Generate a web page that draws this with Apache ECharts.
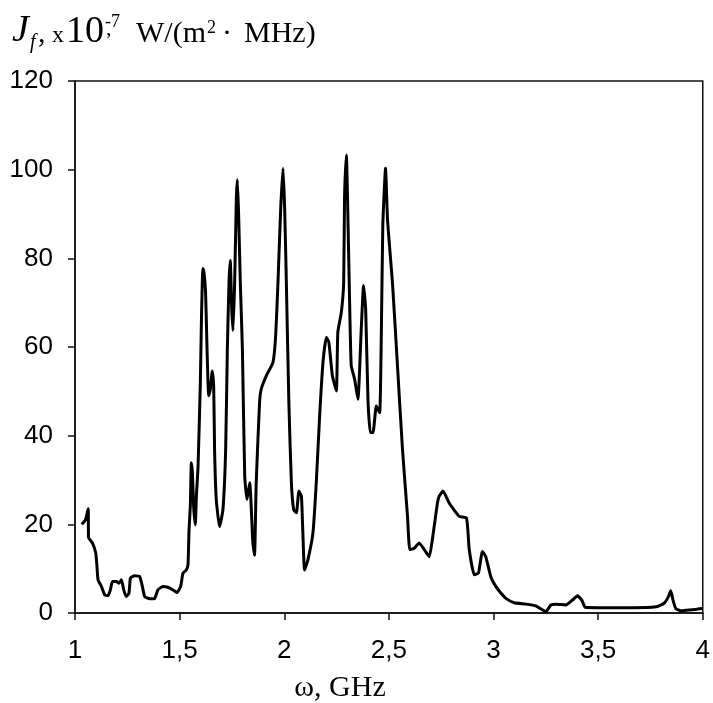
<!DOCTYPE html>
<html>
<head>
<meta charset="utf-8">
<script src="https://cdn.jsdelivr.net/npm/echarts@6/dist/echarts.min.js"></script>
<style>
html,body{margin:0;padding:0;background:#fff;}
#chart{width:713px;height:703px;}
</style>
</head>
<body>
<div id="chart"></div>
<script>
// frequency (GHz) and spectral flux density (x10^-7 W/(m^2·MHz))
const freq = [1.032,1.050,1.063,1.065,1.083,1.099,1.105,1.110,1.126,1.142,1.158,1.169,1.179,1.198,1.210,1.222,1.233,1.245,1.258,1.265,1.285,1.309,1.322,1.333,1.357,1.381,1.396,1.420,1.444,1.468,1.487,1.505,1.516,1.532,1.540,1.545,1.551,1.556,1.561,1.567,1.575,1.580,1.588,1.599,1.604,1.611,1.616,1.624,1.631,1.639,1.647,1.656,1.663,1.667,1.675,1.691,1.707,1.720,1.728,1.736,1.742,1.749,1.755,1.763,1.771,1.776,1.782,1.790,1.800,1.811,1.822,1.835,1.850,1.858,1.866,1.882,1.890,1.914,1.946,1.959,1.970,1.983,1.994,2.002,2.010,2.022,2.034,2.045,2.058,2.070,2.082,2.089,2.097,2.113,2.137,2.153,2.169,2.185,2.201,2.213,2.230,2.249,2.256,2.273,2.284,2.288,2.297,2.304,2.312,2.320,2.336,2.352,2.368,2.379,2.389,2.400,2.411,2.424,2.440,2.456,2.464,2.471,2.484,2.494,2.517,2.541,2.565,2.589,2.600,2.621,2.645,2.669,2.693,2.712,2.732,2.740,2.759,2.788,2.836,2.871,2.884,2.908,2.928,2.947,2.963,2.987,3.011,3.035,3.059,3.099,3.155,3.202,3.250,3.274,3.298,3.346,3.377,3.401,3.422,3.438,3.505,3.664,3.776,3.815,3.836,3.847,3.858,3.871,3.895,3.934,3.967,3.998];
const flux = [20,21,23.5,17,15.8,13.6,10.5,7.5,6,4.1,3.9,5.2,7.1,7.1,6.7,7.5,5.2,3.7,4.5,7.9,8.4,8.2,6,3.7,3.2,3.3,5.2,6,5.8,5.2,4.6,6,9,9.7,10.9,18.8,24,33.9,31.7,24,19.9,26.3,33,52,65.6,77.7,77,72.4,59.5,49,50.5,54.6,50.5,36.9,25.6,19.5,23.3,36.9,59.5,74.6,79.5,68.6,63.7,74.6,93.5,97.7,89.7,74.6,59.5,30.9,25.6,29.4,15.8,13,29.4,47.5,50.5,53.5,56.5,62.6,74.6,91.2,100.3,91.2,74.6,47.5,29.4,23.3,22.6,27.5,26.3,18,9.7,12,18,29.4,44.4,56.5,62.2,61.1,53.5,50.1,63.3,67.9,74.6,93.5,103.3,89.7,70.9,55.8,52.8,48.2,64.1,73.9,68.6,48.2,40.7,40.7,46.7,45.2,63.3,87.5,100.3,88.2,74.6,55.8,36.9,21.8,14.3,14.6,15.8,14.3,12.7,18,24.8,26.3,27.5,24.8,21.8,21.4,14.3,8.6,9,13.9,12.7,8.2,6,4.5,3.3,2.3,2.0,1.6,0.3,1.8,2.0,1.8,2.9,3.9,2.9,1.3,1.2,1.2,1.4,2.2,3.7,5.0,2.9,1.0,0.5,0.7,0.8,1.0];
const xTicks = ['1','1,5','2','2,5','3','3,5','4'];
const yTicks = ['0','20','40','60','80','100','120'];

const chart = echarts.init(document.getElementById('chart'), null, {renderer:'canvas'});
const serif = 'Liberation Serif, Times New Roman, serif';
const sans = 'Liberation Sans, Arial, sans-serif';
const txt = (x, y, s, size, extra) => Object.assign({
  type:'text', x:x, y:y,
  style:Object.assign({text:s, fill:'#000', font:size+'px '+serif, align:'left', verticalAlign:'top'}, extra||{})
});
chart.setOption({
  animation:false,
  backgroundColor:'#fff',
  grid:{left:75, right:9, top:81, bottom:90, show:true, borderColor:'#111', borderWidth:1.5, backgroundColor:'transparent'},
  xAxis:{
    type:'value', min:1, max:4, interval:0.5,
    axisLine:{lineStyle:{color:'#111', width:1.5}},
    axisTick:{show:true, length:7, lineStyle:{color:'#111', width:1.5}},
    axisLabel:{color:'#000', fontFamily:sans, fontSize:26, margin:25,
      formatter:(v)=>{ const i=Math.round((v-1)/0.5); return xTicks[i]!==undefined?xTicks[i]:''; }},
    splitLine:{show:false}
  },
  yAxis:{
    type:'value', min:0, max:120, interval:20,
    axisLine:{show:true, lineStyle:{color:'#111', width:1.5}},
    axisTick:{show:true, length:7, lineStyle:{color:'#111', width:1.5}},
    axisLabel:{color:'#000', fontFamily:sans, fontSize:26, margin:22,
      formatter:(v)=>{ const i=Math.round(v/20); return yTicks[i]!==undefined?yTicks[i]:''; }},
    splitLine:{show:false}
  },
  series:[{
    type:'line', data:freq.map((f,i)=>[f, flux[i]]),
    showSymbol:false, symbol:'none', smooth:0.15,
    lineStyle:{color:'#000', width:3}
  }],
  graphic:[
    txt(12, 12, 'J', 38, {font:'italic 38px '+serif}),
    txt(30, 33, 'f', 20, {font:'italic 20px '+serif}),
    txt(38, 19, ',', 30),
    txt(52, 24, 'x', 24),
    txt(66, 13, '10', 38),
    txt(105, 13, '-7', 18),
    txt(106, 18, ',', 22),
    txt(136, 19, 'W/(m', 30),
    txt(207, 19, '2', 18),
    txt(222, 19, '·', 30),
    txt(244, 19, 'MHz)', 30),
    txt(340, 673, 'ω, GHz', 30, {align:'center'})
  ]
});
</script>
</body>
</html>
